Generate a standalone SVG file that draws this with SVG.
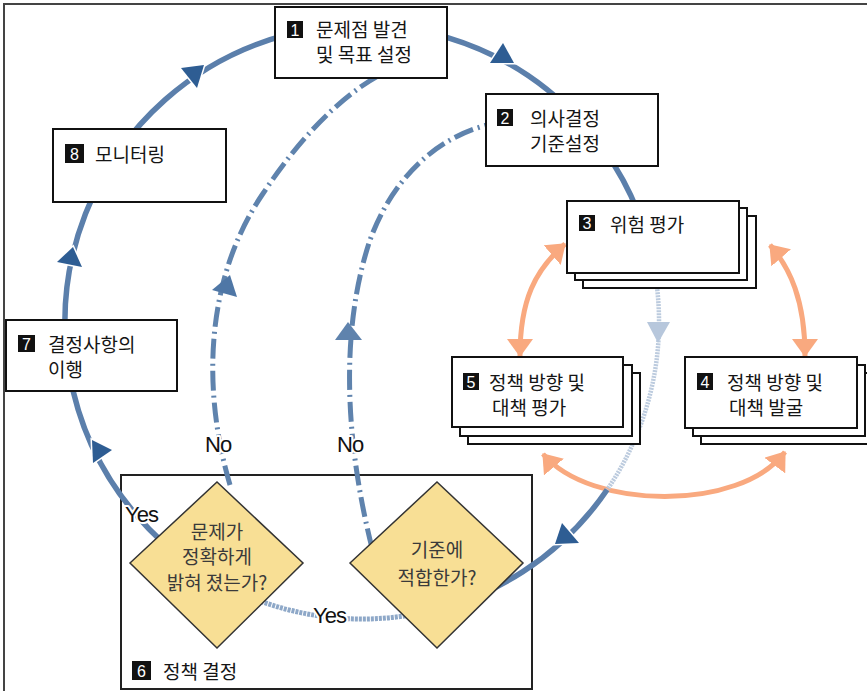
<svg xmlns="http://www.w3.org/2000/svg" width="867" height="691" viewBox="0 0 867 691">
<defs>
<style>
.box{fill:#fff;stroke:#111;stroke-width:2}
.num{fill:#111}
.numt{fill:#fff;font-family:"Liberation Sans",Arial,sans-serif;font-size:16px;text-anchor:middle}
.kt{fill:#151515;font-family:"Noto Sans CJK KR","Noto Sans",sans-serif;font-size:19px}
.dt{fill:#3a3a3a;font-family:"Noto Sans CJK KR","Noto Sans",sans-serif;font-size:19px;text-anchor:middle}
.yn{fill:#111;font-family:"Liberation Sans",Arial,sans-serif;font-size:22px;letter-spacing:-1px;stroke:#fff;stroke-width:4;paint-order:stroke;stroke-linejoin:round}
.loop{fill:none;stroke:#5b7fab;stroke-width:5.5}
.loopL{fill:none;stroke:#8ea8c8;stroke-width:5;stroke-dasharray:3 1}
.faint{fill:none;stroke:#bccbde;stroke-width:4.5;stroke-dasharray:2 1}
.dash{fill:none;stroke:#5f83ad;stroke-width:5;stroke-dasharray:20 5 2 5}
.org{fill:none;stroke:#f9a97f;stroke-width:5}
.ah{fill:#2e5d93;stroke:#fff;stroke-width:3;paint-order:stroke}
.dia{fill:#f8df95;stroke:#333;stroke-width:1.5}
</style>
<marker id="oa" viewBox="0 0 18 26" refX="17" refY="13" markerWidth="18" markerHeight="26" markerUnits="userSpaceOnUse" orient="auto-start-reverse">
<path d="M0,0 L18,13 L0,26 z" fill="#f9a97f"/>
</marker>
</defs>

<rect x="4" y="4" width="880" height="700" fill="none" stroke="#444" stroke-width="2"/>

<g id="n6-frame">
<rect x="121" y="475" width="411" height="214" fill="#fff" stroke="#222" stroke-width="2"/>
</g>

<g id="connectors">
<path class="org" d="M520,356 C520,300 535,270 565,244" marker-start="url(#oa)" marker-end="url(#oa)"/>
<path class="org" d="M805,356 C805,300 790,268 770,245" marker-start="url(#oa)" marker-end="url(#oa)"/>
<path class="org" d="M543,454 C590,510 740,512 785,452" marker-start="url(#oa)" marker-end="url(#oa)"/>

<path class="loop" d="M250.7,597.4 A297,297 0 1 1 648.9,245.1"/>
<path class="faint" d="M648.9,245.1 A297,297 0 0 1 607.1,489.8"/>
<path class="loop" d="M607.1,489.8 A297,297 0 0 1 413.6,614.5"/>
<path class="loopL" d="M413.6,614.5 A297,297 0 0 1 250.7,597.4"/>

<path class="dash" d="M230,485 C202,390 205,280 262,195 C295,145 335,100 378,76"/>
<path class="dash" d="M372,548 C345,440 340,330 370,240 C390,185 430,140 487,125"/>

<polygon class="ah" points="181,68 204,65 197,88"/>
<polygon class="ah" points="503,43 490,63 514,63"/>
<polygon class="ah" points="562,523 555,544 579,543"/>
<polygon class="ah" points="92,440 112,450 93,463"/>
<polygon class="ah" points="73,247 57,262 82,267"/>
<polygon points="647,322 670,322 658,343" fill="#b7c7dc"/>
<polygon points="230,275 212,290 237,297" fill="#4f77a6"/>
<polygon points="348,322 335,340 362,340" fill="#5f83ad"/>

<text class="yn" x="205" y="452">No</text>
<text class="yn" x="337" y="452">No</text>
<text class="yn" x="125" y="522">Yes</text>
<text class="yn" x="313" y="623">Yes</text>
</g>

<g id="d1">
<polygon class="dia" points="130,563 217,482 303,563 217,648"/>
<text class="dt" x="217" y="539">문제가</text>
<text class="dt" x="217" y="564">정확하게</text>
<text class="dt" x="217" y="590">밝혀 졌는가?</text>
</g>

<g id="d2">
<polygon class="dia" points="350,563 437,482 523,563 437,648"/>
<text class="dt" x="437" y="557">기준에</text>
<text class="dt" x="437" y="585">적합한가?</text>
</g>

<g id="n6">
<rect class="num" x="132" y="661" width="19" height="19"/>
<text class="numt" x="141.5" y="676.5">6</text>
<text class="kt" x="163" y="679">정책 결정</text>
</g>

<g id="n1">
<rect class="box" x="275" y="7" width="172" height="71"/>
<rect class="num" x="287" y="21" width="16" height="17"/>
<text class="numt" x="295" y="35.5">1</text>
<text class="kt" x="316" y="37">문제점 발견</text>
<text class="kt" x="316" y="62">및 목표 설정</text>
</g>

<g id="n2">
<rect class="box" x="486" y="94" width="172" height="72"/>
<rect class="num" x="497" y="109" width="16" height="17"/>
<text class="numt" x="505" y="123.5">2</text>
<text class="kt" x="530" y="126">의사결정</text>
<text class="kt" x="530" y="151">기준설정</text>
</g>

<g id="n3">
<rect class="box" x="583" y="216" width="173" height="72"/>
<rect class="box" x="575" y="208" width="172" height="72"/>
<rect class="box" x="567" y="201" width="172" height="72"/>
<rect class="num" x="579" y="215" width="16" height="16"/>
<text class="numt" x="587" y="229">3</text>
<text class="kt" x="610" y="232">위험 평가</text>
</g>

<g id="n5">
<rect class="box" x="468" y="373" width="172" height="71"/>
<rect class="box" x="460" y="365" width="172" height="71"/>
<rect class="box" x="452" y="357" width="171" height="70"/>
<rect class="num" x="463" y="373" width="16" height="17"/>
<text class="numt" x="471" y="387.5">5</text>
<text class="kt" x="489" y="390">정책 방향 및</text>
<text class="kt" x="492" y="415">대책 평가</text>
</g>

<g id="n4">
<rect class="box" x="701" y="373" width="172" height="71"/>
<rect class="box" x="693" y="365" width="172" height="71"/>
<rect class="box" x="685" y="357" width="172" height="71"/>
<rect class="num" x="697" y="373" width="16" height="17"/>
<text class="numt" x="705" y="387.5">4</text>
<text class="kt" x="727" y="390">정책 방향 및</text>
<text class="kt" x="729" y="415">대책 발굴</text>
</g>

<g id="n7">
<rect class="box" x="6" y="320" width="171" height="71"/>
<rect class="num" x="18" y="335" width="17" height="17"/>
<text class="numt" x="26.5" y="349.5">7</text>
<text class="kt" x="48" y="352">결정사항의</text>
<text class="kt" x="48" y="377">이행</text>
</g>

<g id="n8">
<rect class="box" x="53" y="129" width="173" height="73"/>
<rect class="num" x="65" y="144" width="19" height="19"/>
<text class="numt" x="74.5" y="159.5">8</text>
<text class="kt" x="95" y="162">모니터링</text>
</g>
</svg>
